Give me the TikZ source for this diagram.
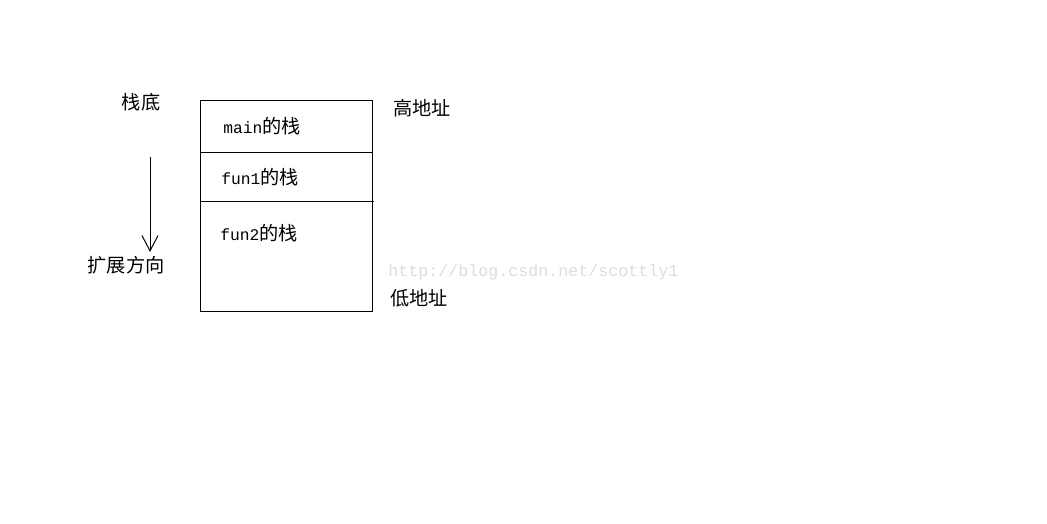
\documentclass[tikz,border=0pt]{standalone}
\usepackage{fontspec}
\newfontfamily\cjk{Noto Sans CJK SC}
\newfontfamily\mono{Liberation Mono}
\usetikzlibrary{arrows.meta}
\definecolor{wm}{RGB}{222,222,216}
\tikzset{
  lbl/.style={inner sep=0pt, font=\cjk\fontsize{14.4}{17}\selectfont},
  cell/.style={inner sep=0pt, anchor=west},
  wmark/.style={inner sep=0pt, anchor=west, text=wm, font=\mono\fontsize{12.5}{15}\selectfont},
}
\newcommand{\stkframe}[1]{{\mono\fontsize{12.2}{15}\selectfont #1}{\cjk\fontsize{14.4}{17}\selectfont 的栈}}
\begin{document}
\begin{tikzpicture}[x=0.75pt,y=-0.75pt]
\useasboundingbox[fill=white] (0,0) rectangle (1047,524);
% box
\draw[line width=0.75pt] (200,101) rectangle (372,312);
\coordinate (d1l) at (200,153); \coordinate (d1r) at (372,153);
\coordinate (d2l) at (200,202); \coordinate (d2r) at (374,202);
\draw[line width=0.75pt] (d1l) -- (d1r);
\draw[line width=0.75pt] (d2l) -- (d2r);
% arrow
\coordinate (as) at (150,157);
\coordinate (ae) at (150,252);
\draw[line width=0.75pt, -{Straight Barb[length=11.5pt,width=12pt,line width=0.75pt]}] (as) -- (ae);
% labels
\node[lbl] (bottom) at (141,102) {栈底};
\node[lbl] (dir) at (126,265) {扩展方向};
\node[lbl, anchor=west] (hi) at (393,108) {高地址};
\node[lbl, anchor=west] (lo) at (390,298) {低地址};
\node[cell] (m) at (223,126) {\stkframe{main}};
\node[cell] (f1) at (221,177) {\stkframe{fun1}};
\node[cell] (f2) at (220,233) {\stkframe{fun2}};
\node[wmark] (w) at (388,272) {http://blog.csdn.net/scottly1};
\end{tikzpicture}
\end{document}
